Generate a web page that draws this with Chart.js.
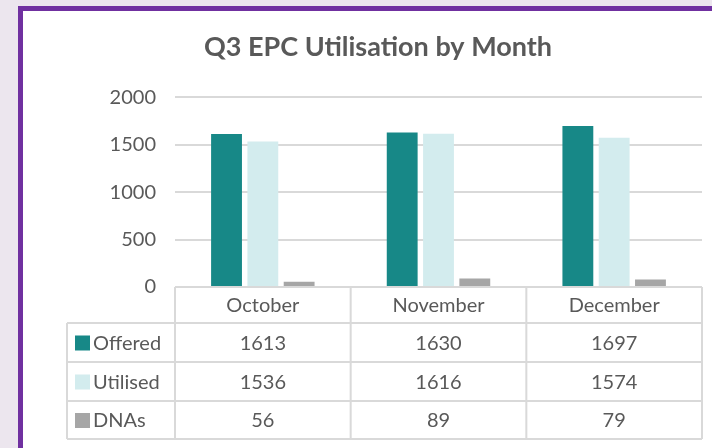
<!DOCTYPE html>
<html>
<head>
<meta charset="utf-8">
<script src="https://cdn.jsdelivr.net/npm/chart.js@4/dist/chart.umd.min.js"></script>
<style>
  html, body { margin: 0; padding: 0; width: 712px; height: 448px; overflow: hidden; background: #ece6ee; }
  #panel { position: absolute; left: 18px; top: 6px; width: 720px; height: 460px; background: #ffffff;
           border-left: 5px solid #7030a0; border-top: 5px solid #7030a0; box-sizing: border-box; }
  #c { position: absolute; left: 0; top: 0; }
</style>
</head>
<body>
<div id="panel"></div>
<canvas id="c" width="712" height="448"></canvas>
<script>
const months = ['October', 'November', 'December'];
const offered = [1613, 1630, 1697];
const utilised = [1536, 1616, 1574];
const dnas = [56, 89, 79];
const seriesNames = ['Offered', 'Utilised', 'DNAs'];
const seriesColors = ['#178887', '#d3ecee', '#a6a6a6'];
const yTicks = [0, 500, 1000, 1500, 2000];

const FONT = 'Lato, "Open Sans", sans-serif';
const TEXT = '#595959';
const LINE = '#d9d9d9';

const tablePlugin = {
  id: 'dataTable',
  afterDraw(chart) {
    const ctx = chart.ctx;
    const area = chart.chartArea;
    const xs = chart.scales.x;
    const n = months.length;
    const colW = (area.right - area.left) / n;
    const top = area.bottom;
    const rows = [top, top + 36, top + 75, top + 114, top + 152];
    const legendLeft = 67;
    ctx.save();
    ctx.strokeStyle = LINE;
    ctx.lineWidth = 2;
    ctx.beginPath();
    ctx.moveTo(area.left, rows[0]); ctx.lineTo(area.right, rows[0]);
    for (let r = 1; r < rows.length; r++) {
      ctx.moveTo(legendLeft, rows[r]); ctx.lineTo(area.right, rows[r]);
    }
    for (let i = 0; i <= n; i++) {
      const x = area.left + i * colW;
      ctx.moveTo(x, rows[0]); ctx.lineTo(x, rows[4]);
    }
    ctx.moveTo(legendLeft, rows[1]); ctx.lineTo(legendLeft, rows[4]);
    ctx.stroke();

    ctx.fillStyle = TEXT;
    ctx.font = '20px ' + FONT;
    ctx.textBaseline = 'middle';
    ctx.textAlign = 'center';
    for (let i = 0; i < n; i++) {
      const cx = xs.getPixelForValue(i);
      ctx.fillText(months[i], cx, (rows[0] + rows[1]) / 2 + 1);
    }
    chart.data.datasets.forEach((ds, r) => {
      const cy = (rows[r + 1] + rows[r + 2]) / 2 + 1;
      ctx.textAlign = 'center';
      ctx.fillStyle = TEXT;
      for (let i = 0; i < n; i++) {
        ctx.fillText(String(ds.data[i]), xs.getPixelForValue(i), cy);
      }
      ctx.fillStyle = ds.backgroundColor;
      ctx.fillRect(legendLeft + 8, cy - 8, 15, 15);
      ctx.fillStyle = TEXT;
      ctx.textAlign = 'left';
      ctx.fillText(ds.label, legendLeft + 26, cy);
    });
    ctx.restore();
  }
};

const seriesData = [offered, utilised, dnas];
new Chart(document.getElementById('c'), {
  type: 'bar',
  data: {
    labels: months,
    datasets: seriesNames.map((name, i) => ({
      label: name,
      data: seriesData[i],
      backgroundColor: seriesColors[i],
      borderWidth: 0,
      categoryPercentage: 0.62,
      barPercentage: 0.85
    }))
  },
  plugins: [tablePlugin],
  options: {
    responsive: false,
    animation: false,
    layout: { padding: { left: 54, right: 10, top: 12, bottom: 161 } },
    plugins: {
      legend: { display: false },
      tooltip: { enabled: false },
      title: {
        display: true,
        text: 'Q3 EPC Utilisation by Month',
        color: TEXT,
        font: { family: FONT, size: 27, weight: 'bold' },
        padding: { top: 19, bottom: 34 }
      }
    },
    scales: {
      x: { display: false },
      y: {
        min: 0, max: 2000,
        afterBuildTicks(scale) { scale.ticks = yTicks.map(v => ({ value: v })); },
        afterFit(scale) { scale.width = 121; },
        ticks: { color: TEXT, font: { family: FONT, size: 20 }, padding: 19,
                 callback: (v) => String(v) },
        grid: { color: LINE, lineWidth: 2, drawTicks: false },
        border: { display: false }
      }
    }
  }
});
</script>
</body>
</html>
